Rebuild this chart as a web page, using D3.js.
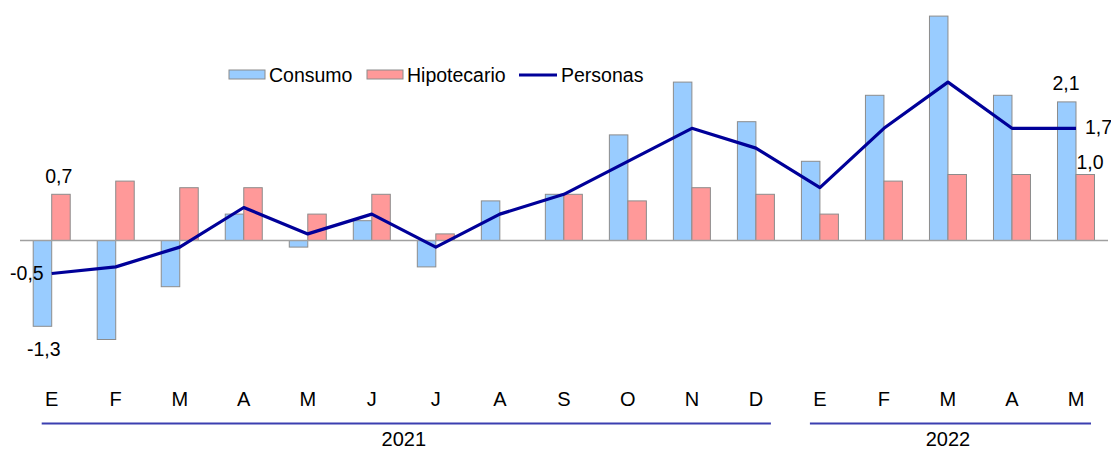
<!doctype html>
<html>
  <head>
    <meta charset="utf-8">
    <style>
      body { margin: 0; background: #fff; }
      svg text { font-family: "Liberation Sans", Arial, sans-serif; fill: #000; }
    </style>
  </head>
  <body>
    <div id="content"></div>
    <script src="https://d3js.org/d3.v7.min.js"></script>
    <script>
      const months = ['E', 'F', 'M', 'A', 'M', 'J', 'J', 'A', 'S', 'O', 'N', 'D', 'E', 'F', 'M', 'A', 'M'];
      const years = [{label: '2021', from: 0, to: 11}, {label: '2022', from: 12, to: 16}];
      const consumo = [-1.3, -1.5, -0.7, 0.4, -0.1, 0.3, -0.4, 0.6, 0.7, 1.6, 2.4, 1.8, 1.2, 2.2, 3.4, 2.2, 2.1];
      const hipotecario = [0.7, 0.9, 0.8, 0.8, 0.4, 0.7, 0.1, 0.0, 0.7, 0.6, 0.8, 0.7, 0.4, 0.9, 1.0, 1.0, 1.0];
      const personas = [-0.5, -0.4, -0.1, 0.5, 0.1, 0.4, -0.1, 0.4, 0.7, 1.2, 1.7, 1.4, 0.8, 1.7, 2.4, 1.7, 1.7];

      const width = 1111, height = 449;
      const idx = d3.range(months.length);

      const x = d3.scaleBand().domain(idx).range([19.7, 1108]);
      const xSub = d3.scaleBand().domain(['c', 'h']).range([-18.5, 18.5]);
      const y = d3.scaleLinear().domain([-2, 3.5]).range([372.5, 9.5]);
      const cx = i => x(i) + x.bandwidth() / 2;

      const svg = d3.select('#content')
        .append('svg')
        .attr('width', width)
        .attr('height', height);

      // bars
      const series = [
        {key: 'c', values: consumo, fill: '#99ccff'},
        {key: 'h', values: hipotecario, fill: '#ff9999'}
      ];
      series.forEach(s => {
        svg.append('g')
          .selectAll('rect')
          .data(idx)
          .join('rect')
          .attr('x', i => cx(i) + xSub(s.key))
          .attr('width', xSub.bandwidth())
          .attr('y', i => y(Math.max(0, s.values[i])))
          .attr('height', i => Math.abs(y(s.values[i]) - y(0)))
          .attr('fill', s.fill)
          .attr('stroke', '#8c8c8c')
          .attr('stroke-width', 1);
      });

      // zero line
      svg.append('line')
        .attr('x1', 20).attr('x2', 1108)
        .attr('y1', y(0)).attr('y2', y(0))
        .attr('stroke', '#a0a0a0')
        .attr('stroke-width', 1.5);

      // personas line
      svg.append('path')
        .datum(idx)
        .attr('fill', 'none')
        .attr('stroke', '#000099')
        .attr('stroke-width', 3.2)
        .attr('stroke-linejoin', 'round')
        .attr('d', d3.line().x(i => cx(i)).y(i => y(personas[i])));

      // month labels
      svg.append('g')
        .selectAll('text')
        .data(idx)
        .join('text')
        .attr('x', i => cx(i))
        .attr('y', 406)
        .attr('text-anchor', 'middle')
        .style('font-size', '20px')
        .text(i => months[i]);

      // year groups
      years.forEach(yr => {
        const x1 = x(yr.from) + 22;
        const x2 = x(yr.to) + x.bandwidth() - 17;
        svg.append('line')
          .attr('x1', x1).attr('x2', x2)
          .attr('y1', 423.5).attr('y2', 423.5)
          .attr('stroke', '#3b3fb0')
          .attr('stroke-width', 2);
        svg.append('text')
          .attr('x', (cx(yr.from) + cx(yr.to)) / 2)
          .attr('y', 446)
          .attr('text-anchor', 'middle')
          .style('font-size', '20px')
          .text(yr.label);
      });

      // data labels
      const fmt = v => d3.format('.1f')(v).replace('.', ',').replace('\u2212', '-');
      const last = months.length - 1;
      const labels = [
        {x: cx(0) + 7, y: y(hipotecario[0]) - 11, t: fmt(hipotecario[0]), a: 'middle'},
        {x: cx(0) - 8, y: y(personas[0]) + 6, t: fmt(personas[0]), a: 'end'},
        {x: cx(0) - 8, y: y(consumo[0]) + 30, t: fmt(consumo[0]), a: 'middle'},
        {x: cx(last) - 10, y: y(consumo[last]) - 12, t: fmt(consumo[last]), a: 'middle'},
        {x: cx(last) + 9, y: y(personas[last]) + 6, t: fmt(personas[last]), a: 'start'},
        {x: cx(last) + 14, y: y(hipotecario[last]) - 6, t: fmt(hipotecario[last]), a: 'middle'}
      ];
      svg.append('g')
        .selectAll('text')
        .data(labels)
        .join('text')
        .attr('x', d => d.x)
        .attr('y', d => d.y)
        .attr('text-anchor', d => d.a)
        .style('font-size', '19.5px')
        .text(d => d.t);

      // legend
      const legend = svg.append('g');
      legend.append('rect').attr('x', 229).attr('y', 70).attr('width', 36).attr('height', 9)
        .attr('fill', '#99ccff').attr('stroke', '#8c8c8c');
      legend.append('text').attr('x', 269).attr('y', 82).style('font-size', '19.5px').text('Consumo');
      legend.append('rect').attr('x', 367).attr('y', 70).attr('width', 36).attr('height', 9)
        .attr('fill', '#ff9999').attr('stroke', '#8c8c8c');
      legend.append('text').attr('x', 407).attr('y', 82).style('font-size', '19.5px').text('Hipotecario');
      legend.append('line').attr('x1', 519).attr('x2', 557).attr('y1', 75).attr('y2', 75)
        .attr('stroke', '#000099').attr('stroke-width', 3);
      legend.append('text').attr('x', 561).attr('y', 82).style('font-size', '19.5px').text('Personas');
    </script>
  </body>
</html>
